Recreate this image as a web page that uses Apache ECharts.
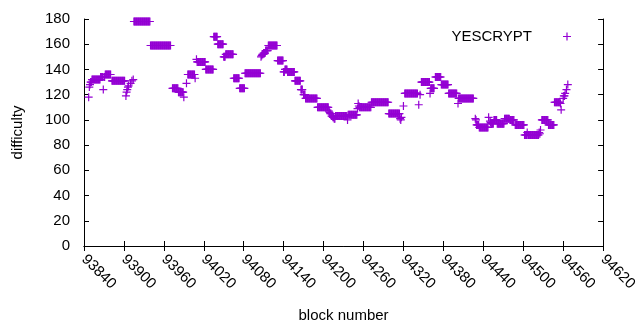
<!DOCTYPE html>
<html>
<head>
<meta charset="utf-8">
<script src="https://cdn.jsdelivr.net/npm/echarts@6/dist/echarts.min.js"></script>
<style>
html, body { margin: 0; padding: 0; background: #fff; }
#main { width: 640px; height: 330px; }
</style>
</head>
<body>
<div id="main"></div>
<script>
// runs of consecutive blocks that share one difficulty
var runFrom = [93847, 93848, 93849, 93850, 93852, 93865, 93869, 93870, 93872, 93882,
	93903, 93904, 93905, 93906, 93907, 93910, 93912, 93914, 93915, 93940,
	93973, 93982, 93990, 93994, 93996, 94007, 94009, 94010, 94023, 94035,
	94041, 94050, 94053, 94065, 94074, 94082, 94106, 94107, 94108, 94110,
	94113, 94117, 94131, 94140, 94142, 94146, 94157, 94166, 94170, 94173,
	94191, 94208, 94209, 94210, 94212, 94214, 94216, 94218, 94236, 94237,
	94251, 94252, 94253, 94254, 94272, 94298, 94315, 94316, 94317, 94320,
	94322, 94343, 94345, 94347, 94360, 94361, 94368, 94377, 94388, 94402,
	94403, 94428, 94429, 94430, 94434, 94448, 94450, 94451, 94452, 94456,
	94461, 94472, 94480, 94488, 94502, 94506, 94507, 94524, 94525, 94526,
	94528, 94538, 94547, 94556, 94557, 94560, 94561, 94563, 94565, 94567];
var runTo = [93847, 93848, 93849, 93851, 93864, 93868, 93869, 93871, 93880, 93901,
	93903, 93904, 93905, 93906, 93907, 93910, 93912, 93914, 93939, 93970,
	93981, 93989, 93990, 93994, 94006, 94007, 94009, 94022, 94034, 94040,
	94049, 94052, 94064, 94073, 94081, 94105, 94106, 94107, 94109, 94112,
	94116, 94130, 94139, 94141, 94145, 94156, 94165, 94168, 94172, 94190,
	94207, 94208, 94209, 94211, 94213, 94215, 94217, 94235, 94236, 94250,
	94251, 94252, 94253, 94271, 94297, 94314, 94315, 94316, 94317, 94320,
	94341, 94343, 94345, 94359, 94360, 94366, 94376, 94387, 94400, 94402,
	94425, 94428, 94429, 94433, 94447, 94448, 94450, 94451, 94455, 94460,
	94471, 94479, 94486, 94501, 94505, 94506, 94523, 94524, 94525, 94526,
	94537, 94546, 94555, 94556, 94557, 94560, 94562, 94563, 94565, 94567];
var runDifficulty = [118, 126, 128, 130, 132, 134, 124, 134, 136, 131,
	119, 122, 124, 126, 127, 129, 131, 132, 178, 159,
	125, 122, 118, 129, 136, 133, 148, 146, 140, 166,
	160, 150, 152, 133, 125, 137, 150, 151, 152, 153,
	155, 159, 147, 138, 140, 138, 131, 124, 120, 117,
	110, 107, 106, 105, 103, 102, 101, 103, 100, 104,
	109, 113, 111, 110, 114, 105, 101, 100, 102, 111,
	121, 112, 120, 130, 121, 125, 134, 128, 121, 113,
	117, 101, 100, 96, 94, 102, 99, 98, 97, 100,
	97, 101, 100, 96, 88, 90, 88, 90, 89, 92,
	100, 96, 114, 113, 108, 117, 119, 121, 124, 128];

var seriesName = 'YESCRYPT';
var plusMark = 'path://M-0.6,-4H0.6V4H-0.6Z M-4,-0.6H4V0.6H-4Z';
var purple = '#9400d3';
var font = '"Liberation Sans", Arial, sans-serif';

var points = [];
for (var i = 0; i < runFrom.length; i++) {
	for (var b = runFrom[i]; b <= runTo[i]; b++) {
		points.push([b, runDifficulty[i]]);
	}
}

var tickStyle = { show: true, inside: true, length: 5, lineStyle: { color: '#000', width: 1 } };
var lineStyle = { show: true, lineStyle: { color: '#000', width: 1 } };

var myChart = echarts.init(document.getElementById('main'));
var option = {
	animation: false,
	backgroundColor: '#fff',
	grid: { left: 84, right: 31, top: 19, bottom: 84 },
	legend: {
		data: [seriesName],
		align: 'right',
		right: 64,
		top: 24,
		icon: plusMark,
		itemWidth: 60,
		itemHeight: 8,
		textStyle: { color: '#000', fontSize: 15, fontFamily: font }
	},
	xAxis: [{
		type: 'value',
		position: 'bottom',
		min: 93840,
		max: 94620,
		interval: 60,
		name: 'block number',
		nameLocation: 'middle',
		nameGap: 62,
		nameTextStyle: { color: '#000', fontSize: 15, fontFamily: font },
		axisLine: lineStyle,
		axisTick: tickStyle,
		splitLine: { show: false },
		axisLabel: {
			rotate: -45, margin: 11, color: '#000', fontSize: 15, fontFamily: font,
			formatter: function (v) { return String(v); }
		}
	}, {
		type: 'value',
		position: 'top',
		min: 93840,
		max: 94620,
		interval: 60,
		axisLine: lineStyle,
		axisTick: tickStyle,
		splitLine: { show: false },
		axisLabel: { show: false }
	}],
	yAxis: [{
		type: 'value',
		position: 'left',
		min: 0,
		max: 180,
		interval: 20,
		name: 'difficulty',
		nameLocation: 'middle',
		nameGap: 59,
		nameTextStyle: { color: '#000', fontSize: 15, fontFamily: font },
		axisLine: lineStyle,
		axisTick: tickStyle,
		splitLine: { show: false },
		axisLabel: { margin: 14, color: '#000', fontSize: 15, fontFamily: font }
	}, {
		type: 'value',
		position: 'right',
		min: 0,
		max: 180,
		interval: 20,
		axisLine: lineStyle,
		axisTick: tickStyle,
		splitLine: { show: false },
		axisLabel: { show: false }
	}],
	series: [{
		name: seriesName,
		type: 'scatter',
		symbol: plusMark,
		symbolSize: 8,
		itemStyle: { color: purple, opacity: 1 },
		emphasis: { disabled: true },
		data: points
	}]
};
myChart.setOption(option);
</script>
</body>
</html>
